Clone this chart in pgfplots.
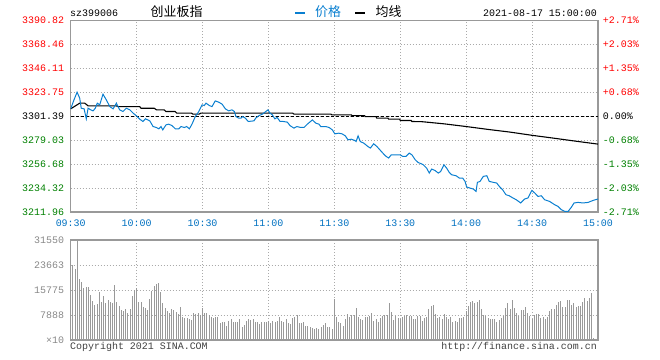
\documentclass[border=0pt]{standalone}
\usepackage{pgfplots}
\pgfplotsset{compat=1.18}
\usepackage{pgfplotstable}
\usepackage{fontspec}
\setmainfont{Liberation Mono}
\newfontfamily\cjk{Noto Sans CJK SC}
\definecolor{pblue}{HTML}{0A7FD0}
\definecolor{tblue}{HTML}{0070C0}
\definecolor{cred}{HTML}{FF0000}
\definecolor{cgreen}{HTML}{008000}
\definecolor{gridc}{HTML}{AAAAAA}
\definecolor{framec}{HTML}{999999}
\definecolor{volc}{HTML}{999999}
\definecolor{vlab}{HTML}{888888}
\definecolor{foot}{HTML}{404040}

\pgfplotstableread{
m p
0 3308.2
1.5 3316.6
2.9 3323.7
4.1 3318.2
4.8 3308.8
6.1 3308.2
7.1 3298.9
7.9 3308.8
9.1 3307.3
10.2 3306.3
11.2 3308.8
12.1 3313.5
13.2 3311.9
14.7 3321.9
16.2 3316.6
17.8 3310.3
19.3 3308.2
20.8 3313.5
22.3 3307.3
23.8 3305.7
25.3 3308.8
26.9 3307.3
28.4 3304.2
29.9 3301.7
31.4 3298.6
32.9 3296.4
34.0 3298.9
36.0 3297.0
37.5 3291.7
39.0 3290.8
40.1 3289.6
41.1 3291.7
41.9 3288.6
43.4 3293.3
44.6 3293.9
46.1 3292.6
47.6 3289.6
49.2 3289.6
50.2 3291.7
51.7 3290.8
52.8 3291.7
54.0 3289.6
55.2 3293.9
56.7 3301.0
58.3 3305.7
59.8 3311.9
60.8 3311.3
61.6 3313.5
63.1 3311.3
64.3 3310.3
65.8 3315.6
67.4 3314.4
68.9 3312.6
70.4 3308.2
71.9 3306.3
73.4 3307.3
74.5 3305.7
75.2 3301.0
76.5 3299.5
77.5 3299.5
78.3 3301.0
79.5 3299.5
80.8 3296.4
83.4 3297.0
84.2 3299.5
85.7 3301.9
87.2 3303.2
88.8 3305.7
89.8 3307.3
90.7 3304.2
91.8 3302.6
92.9 3298.9
94.0 3300.1
95.3 3296.4
96.8 3296.4
98.6 3295.8
99.8 3292.6
101.6 3290.2
102.9 3291.7
104.7 3290.8
106.2 3290.8
107.7 3293.9
110.0 3297.9
111.5 3294.9
113.0 3293.9
113.8 3291.7
116.1 3291.7
117.6 3290.8
119.1 3288.6
120.2 3284.9
122.0 3285.5
123.5 3284.9
125.0 3283.0
126.2 3279.3
127.7 3279.9
129.3 3278.7
129.9 3277.7
130.8 3283.0
131.8 3277.7
133.4 3276.2
135.3 3273.0
136.4 3271.6
137.9 3275.6
139.4 3273.0
141.4 3268.4
143.2 3264.4
144.7 3262.3
145.9 3265.3
147.7 3265.3
150.0 3265.3
151.1 3263.8
152.6 3263.8
154.1 3266.9
155.3 3265.3
156.8 3260.7
158.1 3258.2
159.6 3256.9
160.5 3256.0
162.0 3252.9
163.2 3248.3
164.3 3252.0
165.8 3250.7
167.3 3248.3
168.4 3249.8
169.9 3256.0
171.1 3252.9
172.3 3248.9
173.4 3246.7
175.4 3245.8
176.9 3243.6
178.4 3243.6
179.5 3240.5
180.2 3235.3
181.7 3234.3
183.2 3233.4
184.5 3231.2
185.1 3239.6
186.3 3240.5
187.8 3245.2
189.4 3245.8
190.5 3240.5
192.4 3239.6
193.9 3239.0
195.1 3235.8
196.6 3232.7
198.1 3228.1
199.6 3227.1
201.3 3225.0
202.8 3223.4
204.8 3220.4
206.6 3224.1
208.1 3225.0
209.9 3232.1
211.2 3229.7
212.7 3226.5
214.2 3227.1
215.7 3223.4
218.0 3221.8
220.3 3218.7
221.8 3217.2
223.3 3214.1
224.9 3212.5
226.4 3212.5
227.9 3216.5
229.1 3220.4
230.9 3220.9
233.2 3220.4
235.5 3220.9
237.8 3222.8
240 3224.1
}\price

\pgfplotstableread{
m a
0 3308.2
4.1 3313.5
6.4 3313.5
7.9 3311.0
20.8 3311.0
21.5 3310.3
31.4 3310.3
32.0 3308.8
38.0 3308.8
39.0 3307.3
42.5 3307.3
43.3 3305.7
47.5 3305.7
48.3 3304.2
55.0 3304.2
55.6 3303.3
58.5 3303.3
59.2 3304.2
101.0 3304.2
101.6 3303.3
118.5 3303.3
118.8 3302.6
127.8 3302.6
128.0 3301.9
133.8 3301.9
134.0 3301.0
139.0 3301.0
139.3 3299.5
144.4 3299.5
144.7 3298.6
149.7 3298.6
150.0 3297.3
155.0 3297.3
155.3 3296.4
160 3296.2
170 3294.2
180 3291.7
190 3289.0
200 3286.5
210 3283.5
220 3280.8
230 3278.0
240 3275.3
}\avg

\pgfplotstableread{
v
23670
22300
31400
19150
18410
16310
16830
16830
14200
12310
11050
11360
15250
12100
13890
11780
12620
12100
11570
17360
12100
10730
9470
9260
9780
8630
9780
13890
15780
16310
12100
12100
10310
9990
9470
12940
15460
17150
17570
18090
15040
11780
10200
9150
8420
9780
9470
8940
8210
10410
7360
6840
6940
6730
6310
8630
8100
8630
7890
9990
8630
8420
7890
7360
6840
7150
7360
5470
5790
5790
4420
6100
6630
5790
5790
5790
6520
4210
4730
6100
6630
6310
6630
5790
5790
5050
5580
5580
5790
6100
5260
6100
5580
6100
7150
6100
5790
6520
5260
4940
6840
7150
7890
5260
5470
5790
4420
4520
4210
3890
3470
3680
3470
4210
4730
5260
4210
4210
3470
12940
7360
5580
5260
4420
6520
8210
7150
7890
7890
9990
7150
6520
6310
7150
7150
7570
8420
6100
6520
5790
6840
7570
7890
7890
11570
8730
6310
7680
6840
6520
7150
7570
7890
7570
7570
6520
6520
7570
7570
6100
6840
7150
9680
10730
11050
8210
6840
7150
6520
8210
7150
6520
7150
5790
6100
5790
6840
6840
7150
9150
10730
12100
12410
11570
11990
12620
9780
7890
7570
6840
6520
6520
6520
5790
6310
6840
7570
9990
11570
9680
12620
9990
8630
7570
9470
9470
10520
8420
7570
6520
7890
8210
8210
6840
7150
6520
7150
9150
9780
9780
11050
12100
12410
10310
10310
12620
12620
11050
11570
10520
10730
10730
12100
13150
12310
13150
14940
530
}\vol

\begin{document}
\begin{tikzpicture}[font=\fontsize{10}{12}\selectfont]
\useasboundingbox (0,0) rectangle (660bp,360bp);
% main price panel
\begin{axis}[
  name=main,
  at={(70.7bp,148bp)}, anchor=south west,
  scale only axis, width=527.3bp, height=191.7bp,
  xmin=0, xmax=240, ymin=3211.96, ymax=3390.82,
  xtick={0,30,...,240},
  xticklabels={09:30,10:00,10:30,11:00,11:30,13:30,14:00,14:30,15:00},
  ytick={3211.96,3234.32,3256.68,3279.03,3301.39,3323.75,3346.11,3368.46,3390.82},
  yticklabels={\textcolor{cgreen}{3211.96},\textcolor{cgreen}{3234.32},\textcolor{cgreen}{3256.68},\textcolor{cgreen}{3279.03},3301.39,\textcolor{cred}{3323.75},\textcolor{cred}{3346.11},\textcolor{cred}{3368.46},\textcolor{cred}{3390.82}},
  scaled ticks=false,
  grid=major,
  major grid style={gridc, dash pattern=on 1bp off 2bp, line width=0.8bp},
  axis line style={framec, line width=1.3bp},
  major tick length=0pt,
  xticklabel style={tblue, inner sep=0pt, yshift=-8bp},
  yticklabel style={inner sep=0pt, xshift=-6.5bp},
]
\addplot[black, dash pattern=on 3bp off 2bp, line width=0.9bp] coordinates {(0,3301.39) (240,3301.39)};
\addplot[black, line width=1.1bp] table[x=m, y=a] {\avg};
\addplot[pblue, line width=1bp] table[x=m, y=p] {\price};
\end{axis}
% right percentage labels
\begin{axis}[
  at={(70.7bp,148bp)}, anchor=south west,
  scale only axis, width=527.3bp, height=191.7bp,
  xmin=0, xmax=240, ymin=3211.96, ymax=3390.82,
  axis x line=none, axis y line*=right,
  y axis line style={draw=none},
  scaled ticks=false,
  major tick length=0pt,
  ytick={3211.96,3234.32,3256.68,3279.03,3301.39,3323.75,3346.11,3368.46,3390.82},
  yticklabels={\textcolor{cgreen}{-2.71\%},\textcolor{cgreen}{-2.03\%},\textcolor{cgreen}{-1.35\%},\textcolor{cgreen}{-0.68\%},0.00\%,\textcolor{cred}{+0.68\%},\textcolor{cred}{+1.35\%},\textcolor{cred}{+2.03\%},\textcolor{cred}{+2.71\%}},
  yticklabel style={inner sep=0pt, anchor=west, xshift=4.7bp},
]
\end{axis}
% volume panel
\begin{axis}[
  at={(70.7bp,20bp)}, anchor=south west,
  scale only axis, width=527.3bp, height=100bp,
  xmin=0, xmax=240, ymin=0, ymax=31550,
  xtick={0,30,...,240}, xticklabels={},
  ytick={0,7888,15775,23663,31550},
  yticklabels={×10,7888,15775,23663,31550},
  scaled ticks=false,
  grid=major,
  major grid style={gridc, dash pattern=on 1bp off 2bp, line width=0.8bp},
  axis line style={framec, line width=1.3bp},
  major tick length=0pt,
  yticklabel style={vlab, inner sep=0pt, xshift=-6.5bp},
]
\addplot[ycomb, volc, line width=1bp, mark=none] table[x expr=\coordindex+1, y=v] {\vol};
\end{axis}
% header
\node[anchor=base west, inner sep=0pt] at (70bp,343.3bp) {sz399006};
\node[anchor=base west, inner sep=0pt] at (150.5bp,343bp) {\cjk\fontsize{13}{13}\selectfont 创业板指};
\draw[pblue, line width=2.3bp] (295bp,347.3bp) -- (305bp,347.3bp);
\node[anchor=base west, inner sep=0pt, text=pblue] at (315bp,343bp) {\cjk\fontsize{13}{13}\selectfont 价格};
\draw[black, line width=2.3bp] (355bp,347.3bp) -- (365bp,347.3bp);
\node[anchor=base west, inner sep=0pt] at (375.5bp,343bp) {\cjk\fontsize{13}{13}\selectfont 均线};
\node[anchor=base east, inner sep=0pt] at (597bp,343.3bp) {2021-08-17 15:00:00};
% footer
\node[anchor=base west, inner sep=0pt, text=foot] at (70bp,10.7bp) {Copyright 2021 SINA.COM};
\node[anchor=base east, inner sep=0pt, text=foot] at (597bp,10.7bp) {http://finance.sina.com.cn};
\end{tikzpicture}
\end{document}
